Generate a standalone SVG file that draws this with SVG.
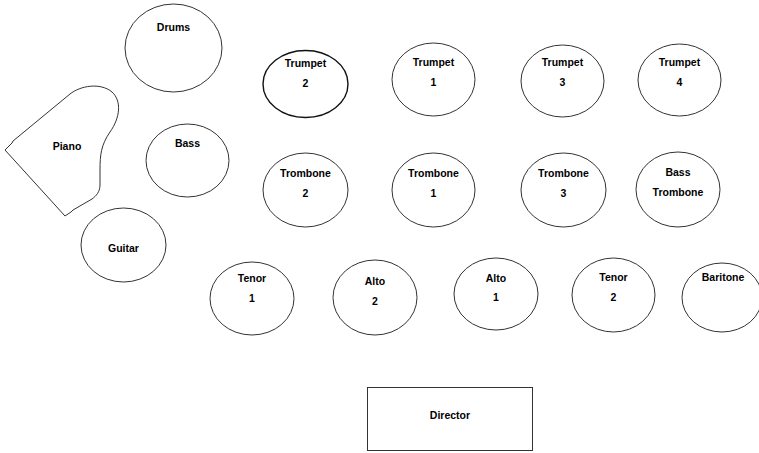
<svg xmlns="http://www.w3.org/2000/svg" width="759" height="453" viewBox="0 0 759 453">
<style>
.s{fill:#fff;stroke:#333;stroke-width:1}
.b{stroke:#111;stroke-width:1.4}
text{font-family:"Liberation Sans",Arial,sans-serif;font-weight:bold;font-size:10.5px;fill:#000;text-anchor:middle;dominant-baseline:central}
</style>
<rect width="759" height="453" fill="#fff"/>
<g id="drums"><ellipse class="s" cx="173.5" cy="48" rx="48.5" ry="44"/><text x="173.5" y="27">Drums</text></g>
<g id="piano"><path class="s" d="M5,150 L12,143 L13,141 L70,94 C80,86 100,82 112,92 C122,101 120,118 110,132 C101,145 100,155 100,170 L100,185 C100,192 96,196 92,199 L73,210 L71,212 L65,216 Z"/><text x="67" y="146">Piano</text></g>
<g id="bass"><ellipse class="s" cx="187.5" cy="160.5" rx="41.5" ry="36.5"/><text x="187.5" y="143">Bass</text></g>
<g id="guitar"><ellipse class="s" cx="123.5" cy="245" rx="42.5" ry="37"/><text x="123.5" y="248">Guitar</text></g>
<g id="trumpet2"><ellipse class="s b" cx="305.5" cy="84" rx="42.5" ry="33.5"/><text x="305.5" y="62.5">Trumpet</text><text x="305.5" y="83">2</text></g>
<g id="trumpet1"><ellipse class="s" cx="433.5" cy="79.5" rx="41.5" ry="36.5"/><text x="433.5" y="62">Trumpet</text><text x="433.5" y="82">1</text></g>
<g id="trumpet3"><ellipse class="s" cx="562.5" cy="81" rx="41.5" ry="36"/><text x="562.5" y="62">Trumpet</text><text x="562.5" y="82">3</text></g>
<g id="trumpet4"><ellipse class="s" cx="679.5" cy="80" rx="41.5" ry="36"/><text x="679.5" y="62">Trumpet</text><text x="679.5" y="82">4</text></g>
<g id="trombone2"><ellipse class="s" cx="305.5" cy="190" rx="42.5" ry="37"/><text x="305.5" y="173">Trombone</text><text x="305.5" y="193">2</text></g>
<g id="trombone1"><ellipse class="s" cx="433.5" cy="190" rx="41.5" ry="37"/><text x="433.5" y="173">Trombone</text><text x="433.5" y="193">1</text></g>
<g id="trombone3"><ellipse class="s" cx="563.5" cy="190" rx="42.5" ry="37"/><text x="563.5" y="173">Trombone</text><text x="563.5" y="193">3</text></g>
<g id="bass-trombone"><ellipse class="s" cx="678" cy="189.5" rx="42" ry="37.5"/><text x="678" y="172">Bass</text><text x="678" y="192">Trombone</text></g>
<g id="tenor1"><ellipse class="s" cx="252" cy="298.5" rx="42" ry="36.5"/><text x="252" y="278">Tenor</text><text x="252" y="298">1</text></g>
<g id="alto2"><ellipse class="s" cx="375" cy="297.5" rx="42" ry="37.5"/><text x="375" y="281">Alto</text><text x="375" y="301">2</text></g>
<g id="alto1"><ellipse class="s" cx="496" cy="294" rx="42" ry="36"/><text x="496" y="278">Alto</text><text x="496" y="297">1</text></g>
<g id="tenor2"><ellipse class="s" cx="613.5" cy="295" rx="41.5" ry="37"/><text x="613.5" y="277">Tenor</text><text x="613.5" y="297">2</text></g>
<g id="baritone"><ellipse class="s" cx="722" cy="297.5" rx="40" ry="34.5"/><text x="723" y="277">Baritone</text></g>
<g id="director"><rect class="s" x="367.5" y="387.5" width="165" height="63"/><text x="450" y="415">Director</text></g>
<g id="connectors"></g>
</svg>
